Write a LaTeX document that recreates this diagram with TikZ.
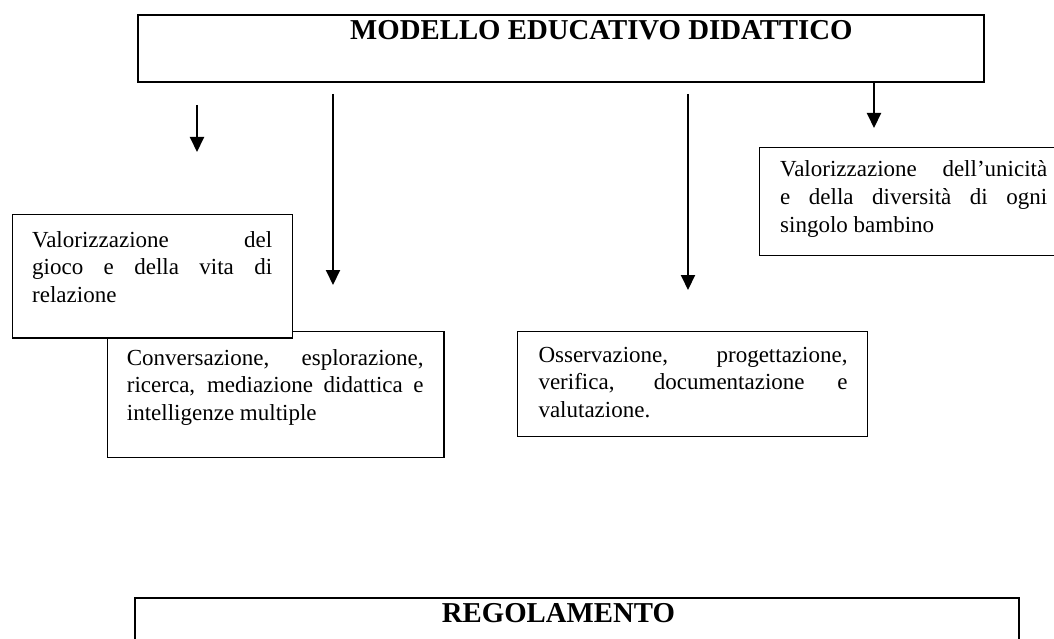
\documentclass[tikz,border=0pt]{standalone}
\usepackage{fontspec}
\setmainfont{Liberation Serif}
\usetikzlibrary{arrows.meta}
\newcommand\jline[1]{\makebox[\linewidth][s]{#1}}
\tikzset{
  box/.style={draw, line width=1.3pt, fill=white, inner sep=0pt, anchor=north west},
  txt/.style={anchor=base west, inner sep=0pt, font=\fontsize{23}{27.6}\selectfont},
  ttl/.style={anchor=base west, inner sep=0pt, font=\bfseries\fontsize{28.8}{32}\selectfont},
  arr/.style={line width=2pt, -{Triangle[width=14pt,length=15pt]}}
}
\begin{document}
\begin{tikzpicture}[x=1pt,y=-1pt]
\useasboundingbox (0,0) rectangle (1054,639);
\clip (0,0) rectangle (1054,639);
% title box
\node[box, line width=2pt, minimum width=846pt, minimum height=66.7pt] (T) at (136.7,14) {};
\node[ttl] (Tt) at (350,40) {MODELLO EDUCATIVO DIDATTICO};
% arrows
\coordinate (a1s) at (197,105); \coordinate (a1e) at (197,152);
\coordinate (a2s) at (333,94);  \coordinate (a2e) at (333,285);
\coordinate (a3s) at (688,94);  \coordinate (a3e) at (688,290);
\coordinate (a4e) at (874,128);
\draw[arr] (a1s) -- (a1e);
\draw[arr] (a2s) -- (a2e);
\draw[arr] (a3s) -- (a3e);
\draw[arr] (T.south -| a4e) -- (a4e);
% box B
\node[box, minimum width=336.6pt, minimum height=125.7pt] (B) at (106.7,331) {};
\node[txt] (Bt) at (126.7,365) {\parbox[t]{296.7pt}{\jline{Conversazione, esplorazione,}\\\jline{ricerca, mediazione didattica e}\\intelligenze multiple}};
% box A (on top of B)
\node[box, minimum width=280.3pt, minimum height=123.8pt] (A) at (11.7,213.5) {};
\node[txt] (At) at (32,247) {\parbox[t]{240pt}{\jline{Valorizzazione del}\\\jline{gioco e della vita di}\\relazione}};
% box C
\node[box, minimum width=350.3pt, minimum height=105pt] (C) at (516.7,331) {};
\node[txt] (Ct) at (538.3,362) {\parbox[t]{309pt}{\jline{Osservazione, progettazione,}\\\jline{verifica, documentazione e}\\valutazione.}};
% box D
\node[box, minimum width=311pt, minimum height=108pt] (D) at (759,147) {};
\node[txt] (Dt) at (780,177) {\parbox[t]{267pt}{\jline{Valorizzazione dell’unicità}\\\jline{e della diversità di ogni}\\singolo bambino}};
% bottom box
\node[box, line width=2pt, minimum width=884pt, minimum height=63pt] (R) at (134,597) {};
\node[ttl] (Rt) at (441.7,622) {REGOLAMENTO};
\end{tikzpicture}
\end{document}
